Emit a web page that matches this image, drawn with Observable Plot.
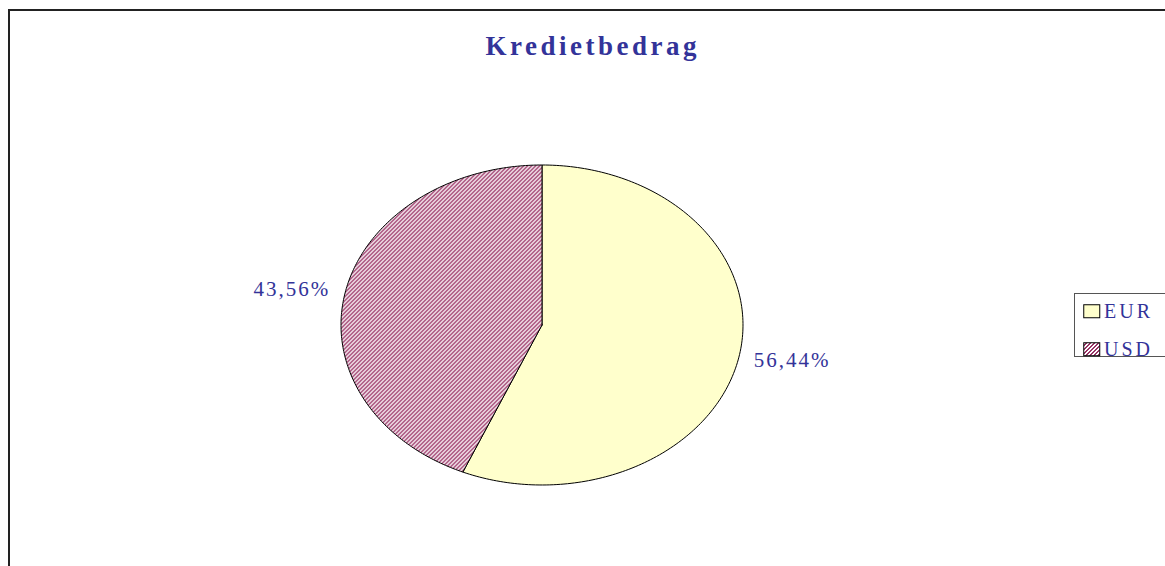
<!DOCTYPE html>
<html>
<head>
<meta charset="utf-8">
<script src="https://cdn.jsdelivr.net/npm/d3@7"></script>
<script src="https://cdn.jsdelivr.net/npm/@observablehq/plot@0.6"></script>
<style>
  html, body { margin: 0; padding: 0; background: #fff; }
  #wrap { position: relative; width: 1165px; height: 566px; overflow: hidden; font-family: "Liberation Serif", "Times New Roman", serif; }
  #frame { position: absolute; left: 8px; top: 9px; width: 1300px; height: 700px; border-left: 2px solid #222; border-top: 2px solid #222; }
  #title { position: absolute; left: 0; top: 33px; width: 1182px; text-align: center; font-size: 27px; line-height: 27px; font-weight: bold; color: #333399; letter-spacing: 3.5px; padding-left: 3.5px; box-sizing: border-box; }
  #chart { position: absolute; left: 0; top: 0; }
  #legend { position: absolute; left: 1074px; top: 293px; width: 120px; height: 62px; border: 1.5px solid #555; background: #fff; }
  .item { position: absolute; left: 8px; height: 20px; display: flex; align-items: center; font-size: 20px; color: #333399; letter-spacing: 3px; }
  .item svg { margin-right: 3px; }
</style>
</head>
<body>
<svg width="0" height="0" style="position:absolute">
  <defs>
    <pattern id="hatch" patternUnits="userSpaceOnUse" width="4" height="4" shape-rendering="crispEdges">
      <rect width="4" height="4" fill="#ffffff"/>
      <g fill="#993366">
        <rect x="3" y="0" width="1" height="1"/><rect x="0" y="0" width="1" height="1"/>
        <rect x="2" y="1" width="2" height="1"/>
        <rect x="1" y="2" width="2" height="1"/>
        <rect x="0" y="3" width="2" height="1"/>
      </g>
    </pattern>
  </defs>
</svg>
<div id="wrap">
  <div id="frame"></div>
  <div id="title"></div>
  <div id="chart"></div>
  <div id="legend"></div>
</div>
<script>
// ---- data ----
const titleText = "Kredietbedrag";
const categories = ["EUR", "USD"];
const shares = [56.44, 43.56];
const fills = ["#ffffcc", "url(#hatch)"];

// ---- build slices ----
const arcs = d3.pie().sort(null)(shares);
const slicePts = [];
const labels = [];
arcs.forEach((a, i) => {
  const name = categories[i];
  slicePts.push({name, x: 0, y: 0});
  const n = 200;
  for (let k = 0; k <= n; k++) {
    const t = a.startAngle + (a.endAngle - a.startAngle) * k / n;
    slicePts.push({name, x: Math.sin(t), y: Math.cos(t)});
  }
  slicePts.push({name, x: 0, y: 0});
  const mid = (a.startAngle + a.endAngle) / 2;
  labels.push({
    name,
    x: 1.27 * Math.sin(mid),
    y: 1.1 * Math.cos(mid),
    text: shares[i].toFixed(2).replace(".", ",") + "%"
  });
});

document.getElementById("title").textContent = titleText;

const plot = Plot.plot({
  width: 1165,
  height: 566,
  margin: 0,
  x: {domain: [-1, 1], range: [340.5, 742.5], axis: null},
  y: {domain: [-1, 1], range: [484.5, 164.5], axis: null},
  style: {background: "transparent", fontFamily: "'Liberation Serif', serif", letterSpacing: "2px", overflow: "visible"},
  marks: [
    ...categories.map((c, i) => Plot.line(slicePts.filter(d => d.name === c), {
      x: "x", y: "y", fill: fills[i], stroke: "#000", strokeWidth: 1, curve: "linear", strokeLinejoin: "round"
    })),
    Plot.text(labels, {x: "x", y: "y", text: "text", fontSize: 21, fill: "#333399"})
  ]
});
document.getElementById("chart").appendChild(plot);

// ---- legend ----
const legend = document.getElementById("legend");
categories.forEach((c, i) => {
  const item = document.createElement("div");
  item.className = "item";
  item.style.top = (7 + i * 38) + "px";
  item.innerHTML = `<svg width="18" height="15"><rect x="0.75" y="0.75" width="16" height="13" fill="${fills[i]}" stroke="#000" stroke-width="1"/></svg><span>${c}</span>`;
  legend.appendChild(item);
});
</script>
</body>
</html>
